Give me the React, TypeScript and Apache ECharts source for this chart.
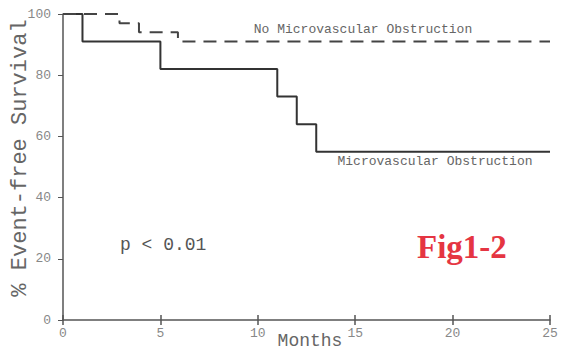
import React, { useEffect, useRef } from "react";
import * as echarts from "echarts";

const mvoTimes = [0, 1, 5, 11, 12, 13, 25];
const mvoSurvival = [100, 91, 82, 73, 64, 55, 55];
const noMvoTimes = [0, 2.9, 3.9, 5.9, 25];
const noMvoSurvival = [100, 97, 94, 91, 91];
const xTicks = [0, 5, 10, 15, 20, 25];
const yTicks = [0, 20, 40, 60, 80, 100];

const mono = "'Liberation Mono', 'DejaVu Sans Mono', monospace";

export default function App() {
  const ref = useRef<HTMLDivElement>(null);
  useEffect(() => {
    if (!ref.current) return;
    const chart = echarts.init(ref.current, null, { renderer: "svg" });
    const mvo = mvoTimes.map((t, i) => [t, mvoSurvival[i]]);
    const noMvo = noMvoTimes.map((t, i) => [t, noMvoSurvival[i]]);
    chart.setOption({
      animation: false,
      backgroundColor: "#ffffff",
      grid: { left: 63, right: 12, top: 14, bottom: 31 },
      xAxis: [
        {
          type: "value",
          min: xTicks[0],
          max: xTicks[xTicks.length - 1],
          interval: 5,
          splitLine: { show: false },
          axisLine: { lineStyle: { color: "#555", width: 1.5 } },
          axisTick: { inside: false, length: 5, lineStyle: { color: "#555", width: 1.5 } },
          axisLabel: { margin: 7, color: "#888", fontFamily: mono, fontSize: 13 },
        },
        {
          type: "value",
          position: "bottom",
          min: xTicks[0],
          max: xTicks[xTicks.length - 1],
          interval: 5,
          splitLine: { show: false },
          axisLine: { show: false },
          axisTick: { inside: true, length: 5, lineStyle: { color: "#555", width: 1.5 } },
          axisLabel: { show: false },
        },
      ],
      yAxis: {
        type: "value",
        min: yTicks[0],
        max: yTicks[yTicks.length - 1],
        interval: 20,
        splitLine: { show: false },
        axisLine: { show: true, lineStyle: { color: "#555", width: 1.5 } },
        axisTick: { show: true, length: 5, lineStyle: { color: "#555", width: 1 } },
        axisLabel: { margin: 12, color: "#888", fontFamily: mono, fontSize: 13 },
      },
      series: [
        {
          type: "line",
          step: "end",
          data: mvo,
          showSymbol: false,
          lineStyle: { color: "#333", width: 2 },
        },
        {
          type: "line",
          step: "end",
          data: noMvo,
          showSymbol: false,
          lineStyle: { color: "#444", width: 2, type: [13, 8] },
        },
      ],
      graphic: [
        {
          type: "text",
          x: 363,
          y: 29,
          style: {
            text: "No Microvascular Obstruction",
            fill: "#666",
            font: `13px ${mono}`,
            align: "center",
            verticalAlign: "middle",
          },
        },
        {
          type: "text",
          x: 435,
          y: 161,
          style: {
            text: "Microvascular Obstruction",
            fill: "#666",
            font: `13px ${mono}`,
            align: "center",
            verticalAlign: "middle",
          },
        },
        {
          type: "text",
          x: 120,
          y: 245,
          style: {
            text: "p < 0.01",
            fill: "#555",
            font: `18px ${mono}`,
            align: "left",
            verticalAlign: "middle",
          },
        },
        {
          type: "text",
          x: 417,
          y: 247,
          style: {
            text: "Fig1-2",
            fill: "#e53542",
            font: `bold 33px 'Liberation Serif', 'DejaVu Serif', serif`,
            align: "left",
            verticalAlign: "middle",
          },
        },
        {
          type: "text",
          x: 20,
          y: 158,
          rotation: Math.PI / 2,
          style: {
            text: "% Event-free Survival",
            fill: "#666",
            font: `22px ${mono}`,
            align: "center",
            verticalAlign: "middle",
          },
        },
        {
          type: "text",
          x: 310,
          y: 341,
          style: {
            text: "Months",
            fill: "#666",
            font: `18px ${mono}`,
            align: "center",
            verticalAlign: "middle",
          },
        },
      ],
    });
    return () => chart.dispose();
  }, []);
  return <div ref={ref} style={{ width: 562, height: 351, position: "absolute", left: 0, top: 0 }} />;
}
